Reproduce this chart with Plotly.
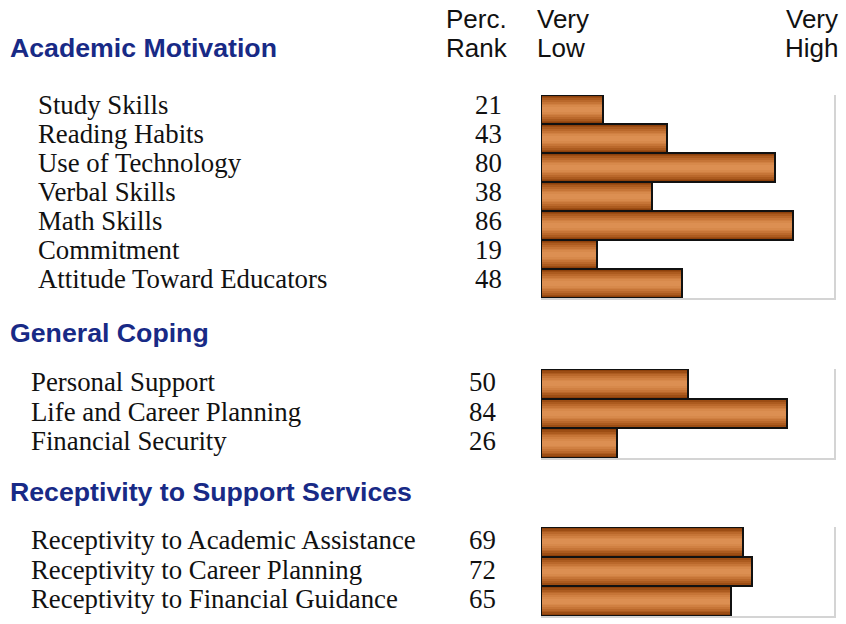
import plotly.graph_objects as go

W, H = 846, 624

# ---- data ----
sec1_title = "Academic Motivation"
sec1_labels = ["Study Skills", "Reading Habits", "Use of Technology", "Verbal Skills",
               "Math Skills", "Commitment", "Attitude Toward Educators"]
sec1_values = [21, 43, 80, 38, 86, 19, 48]

sec2_title = "General Coping"
sec2_labels = ["Personal Support", "Life and Career Planning", "Financial Security"]
sec2_values = [50, 84, 26]

sec3_title = "Receptivity to Support Services"
sec3_labels = ["Receptivity to Academic Assistance", "Receptivity to Career Planning",
               "Receptivity to Financial Guidance"]
sec3_values = [69, 72, 65]

# ---- styling ----
SERIF = "Liberation Serif, Times New Roman, serif"
SANS = "Liberation Sans, Arial, sans-serif"
NAVY = "#182a86"
AXIS_GREY = "#d4d4d4"

# gradient (outer dark -> inner light)
grad_widths = [1.0, 0.88, 0.76, 0.64, 0.52, 0.40, 0.28, 0.16]
grad_colors = ["#8c400b", "#9c4d14", "#ac5b1f", "#ba682b", "#c67537", "#d08042",
               "#d7894b", "#dc8f52"]

# panel pixel geometry (top, bottom), label left x, number centre x
panels = [
    dict(title=sec1_title, labels=sec1_labels, values=sec1_values, top=95, bottom=298,
         lab_x=36, num_x=488, yshift=5, title_y=48),
    dict(title=sec2_title, labels=sec2_labels, values=sec2_values, top=369, bottom=458,
         lab_x=29, num_x=482, yshift=2, title_y=333),
    dict(title=sec3_title, labels=sec3_labels, values=sec3_values, top=527, bottom=616,
         lab_x=29, num_x=482, yshift=2, title_y=492),
]

X0, X1 = 541, 834

fig = go.Figure()
annotations = []
layout_axes = {}

for i, p in enumerate(panels):
    n = i + 1
    xa = "x" if n == 1 else f"x{n}"
    ya = "y" if n == 1 else f"y{n}"
    for w, c in zip(grad_widths, grad_colors):
        fig.add_trace(go.Bar(
            x=p["values"], y=p["labels"], orientation="h", width=w,
            marker=dict(color=c, line=dict(width=0)),
            xaxis=xa, yaxis=ya, showlegend=False, hoverinfo="skip"))
    # outline
    fig.add_trace(go.Bar(
        x=p["values"], y=p["labels"], orientation="h", width=1.0,
        marker=dict(color="rgba(0,0,0,0)", line=dict(color="#111111", width=2)),
        xaxis=xa, yaxis=ya, showlegend=False))

    k = len(p["labels"])
    xkey = "xaxis" if n == 1 else f"xaxis{n}"
    ykey = "yaxis" if n == 1 else f"yaxis{n}"
    layout_axes[xkey] = dict(
        domain=[X0 / W, X1 / W], range=[0, 100], anchor=ya,
        showgrid=False, zeroline=False, showticklabels=False, ticks="",
        showline=True, linecolor=AXIS_GREY, linewidth=1.5, fixedrange=True)
    layout_axes[ykey] = dict(
        domain=[1 - p["bottom"] / H, 1 - p["top"] / H], anchor=xa,
        type="category", range=[k - 0.5, -0.5], side="right",
        showgrid=False, zeroline=False, showticklabels=False, ticks="",
        showline=True, linecolor=AXIS_GREY, linewidth=1.5, fixedrange=True)

    # section title
    annotations.append(dict(
        text=f"<b>{p['title']}</b>", x=8 / W, y=1 - p["title_y"] / H,
        xref="paper", yref="paper", xanchor="left", yanchor="middle",
        showarrow=False, font=dict(family=SANS, size=26.7, color=NAVY)))
    for lab, v in zip(p["labels"], p["values"]):
        annotations.append(dict(
            text=lab, x=p["lab_x"] / W, y=lab, xref="paper", yref=ya,
            xanchor="left", yanchor="middle", yshift=p["yshift"], showarrow=False,
            font=dict(family=SERIF, size=26.8, color="#111111")))
        annotations.append(dict(
            text=str(v), x=p["num_x"] / W, y=lab, xref="paper", yref=ya,
            xanchor="center", yanchor="middle", yshift=p["yshift"], showarrow=False,
            font=dict(family=SERIF, size=26.8, color="#111111")))

# header column texts
hdr_font = dict(family=SANS, size=26, color="#111111")
for txt, x, anchor, y in [("Perc.", 444, "left", 19), ("Rank", 444, "left", 48),
                          ("Very", 535, "left", 19), ("Low", 535, "left", 48),
                          ("Very", 840, "right", 19), ("High", 840, "right", 48)]:
    annotations.append(dict(text=txt, x=x / W, y=1 - y / H, xref="paper", yref="paper",
                            xanchor=anchor, yanchor="middle", showarrow=False, font=hdr_font))

fig.update_layout(
    width=W, height=H, margin=dict(l=0, r=0, t=0, b=0),
    paper_bgcolor="white", plot_bgcolor="white",
    barmode="overlay", bargap=0, showlegend=False,
    annotations=annotations, **layout_axes)

fig.write_html("out.html", config={"displayModeBar": False},
               post_script="document.body.style.margin='0';document.body.style.padding='0';")
